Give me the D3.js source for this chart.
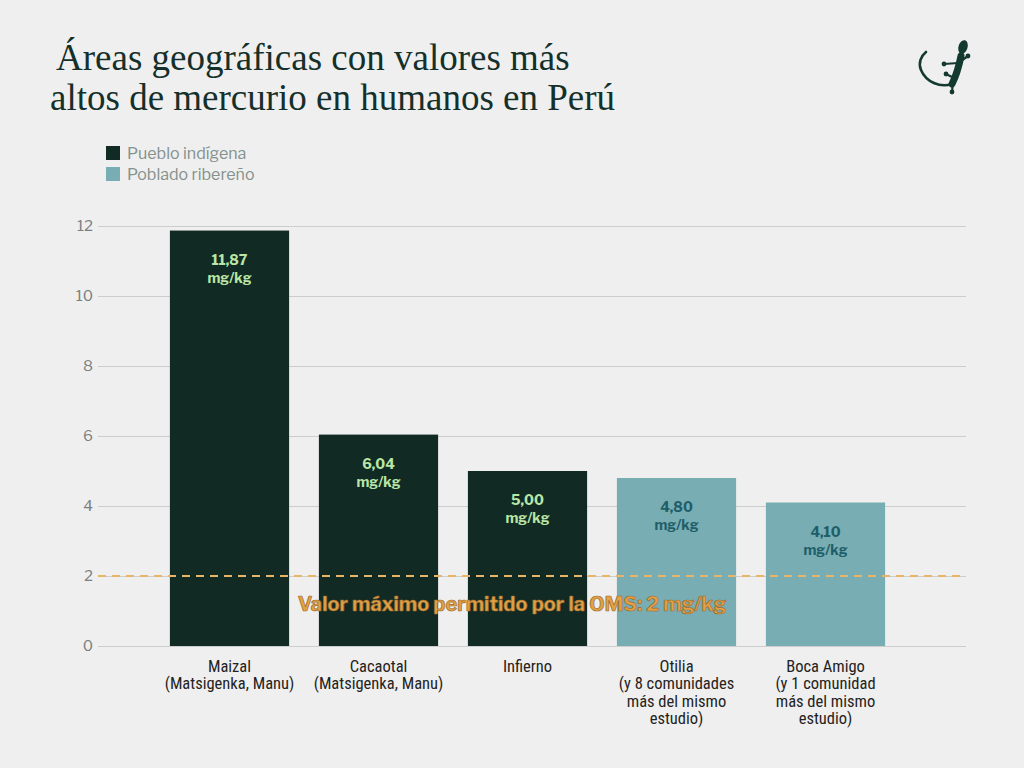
<!DOCTYPE html>
<html>
<head>
<meta charset="utf-8">
<script src="https://cdn.jsdelivr.net/npm/d3@7"></script>
<style>
  body { margin: 0; background: #efefef; }
  svg { display: block; }
</style>
</head>
<body>
<svg id="chart" width="1024" height="768"></svg>
<script>
var categories = ["Maizal", "Cacaotal", "Infierno", "Otilia", "Boca Amigo"];
var labelLines = [
    ["Maizal", "(Matsigenka, Manu)"],
    ["Cacaotal", "(Matsigenka, Manu)"],
    ["Infierno"],
    ["Otilia", "(y 8 comunidades", "más del mismo", "estudio)"],
    ["Boca Amigo", "(y 1 comunidad", "más del mismo", "estudio)"]
];
var values = [11.87, 6.04, 5.00, 4.80, 4.10];
var groups = ["Pueblo indígena", "Pueblo indígena", "Pueblo indígena", "Poblado ribereño", "Poblado ribereño"];
var legendItems = ["Pueblo indígena", "Poblado ribereño"];
var yTicks = [0, 2, 4, 6, 8, 10, 12];
var limitValue = 2;
var limitLabel = "Valor máximo permitido por la OMS: 2 mg/kg";

var colors = {"Pueblo indígena": "#122a24", "Poblado ribereño": "#77adb3"};
var labelColors = {"Pueblo indígena": "#b9e6a6", "Poblado ribereño": "#1f5e68"};

var svg = d3.select("#chart");
var sans = "'Libre Franklin', 'Public Sans', Roboto, 'Liberation Sans', sans-serif";
var narrow = "'Liberation Sans Narrow', 'Roboto Condensed', Roboto, sans-serif";

// title
var title = svg.append("g").attr("fill", "#15302a")
    .attr("font-family", "'Liberation Serif', 'DejaVu Serif', serif")
    .attr("font-size", 37);
title.append("text").attr("x", 56).attr("y", 70).text("Áreas geográficas con valores más");
title.append("text").attr("x", 50).attr("y", 110).text("altos de mercurio en humanos en Perú");

// legend
var legend = svg.append("g").selectAll("g")
    .data(legendItems).enter()
    .append("g")
    .attr("transform", function (d, i) { return "translate(106," + (146 + i * 21) + ")"; });
legend.append("rect").attr("width", 14).attr("height", 14)
    .attr("fill", function (d) { return colors[d]; });
legend.append("text").attr("x", 21).attr("y", 12.5)
    .attr("font-family", sans).attr("font-size", 16).attr("fill", "#84918d")
    .text(function (d) { return d; });

// scales
var x = d3.scaleBand().domain(categories).range([155, 900])
    .paddingInner(0.2).paddingOuter(0.1);
var y = d3.scaleLinear().domain([0, 12]).range([646, 226]);

// grid + axis
var yAxis = d3.axisLeft(y).tickValues(yTicks).tickSize(-868).tickPadding(6);
var axisG = svg.append("g").attr("transform", "translate(98,0)").call(yAxis);
axisG.select(".domain").remove();
axisG.selectAll(".tick line").attr("stroke", "#cdcdcd").attr("stroke-width", 1.2);
axisG.selectAll(".tick text").attr("fill", "#7b7f7e")
    .attr("font-family", sans).attr("font-size", 15).attr("x", -5);

// bars
svg.append("g").selectAll("rect")
    .data(values).enter()
    .append("rect")
    .attr("x", function (d, i) { return x(categories[i]); })
    .attr("y", function (d) { return y(d); })
    .attr("width", x.bandwidth())
    .attr("height", function (d) { return y(0) - y(d); })
    .attr("fill", function (d, i) { return colors[groups[i]]; });

// value labels
var vl = svg.append("g").selectAll("text")
    .data(values).enter()
    .append("text")
    .attr("text-anchor", "middle")
    .attr("font-family", sans).attr("font-size", 14).attr("font-weight", "bold")
    .attr("fill", function (d, i) { return labelColors[groups[i]]; })
    .attr("transform", function (d, i) {
        return "translate(" + (x(categories[i]) + x.bandwidth() / 2) + "," + (y(d) + 34) + ")";
    });
vl.append("tspan").attr("x", 0).attr("y", 0)
    .text(function (d) { return d.toFixed(2).replace(".", ","); });
vl.append("tspan").attr("x", 0).attr("y", 18).text("mg/kg");

// WHO limit
svg.append("line")
    .attr("x1", 98).attr("x2", 966)
    .attr("y1", y(limitValue)).attr("y2", y(limitValue))
    .attr("stroke", "#e8b468").attr("stroke-width", 2)
    .attr("stroke-dasharray", "8,6");
svg.append("text")
    .attr("x", 512).attr("y", y(limitValue) + 35)
    .attr("text-anchor", "middle")
    .attr("font-family", sans).attr("font-size", 20).attr("font-weight", "bold")
    .attr("fill", "#e3a144").attr("stroke", "#9a6a2e").attr("stroke-width", 0.7)
    .text(limitLabel);

// category labels
var cl = svg.append("g").selectAll("text")
    .data(categories).enter()
    .append("text")
    .attr("text-anchor", "middle")
    .attr("font-family", narrow).attr("font-size", 16.5).attr("fill", "#1f2322")
    .attr("transform", function (d) {
        return "translate(" + (x(d) + x.bandwidth() / 2) + ",672)";
    });
cl.selectAll("tspan")
    .data(function (d, i) { return labelLines[i]; }).enter()
    .append("tspan")
    .attr("x", 0)
    .attr("y", function (d, j) { return j * 17.3; })
    .text(function (d) { return d; });

// gecko logo
var ink = "#143a30";
var logo = svg.append("g").attr("fill", ink).attr("stroke", ink).attr("stroke-linecap", "round");
// tail
logo.append("path").attr("fill", "none").attr("stroke-width", 2.6)
    .attr("d", "M952,84 C940,88 926,82 921,70 C918,63 921,56 926,52");
// body
logo.append("path").attr("fill", "none").attr("stroke-width", 7)
    .attr("d", "M961,56 C959,66 956,76 952,84");
// head
logo.append("ellipse").attr("stroke", "none")
    .attr("cx", 963).attr("cy", 47).attr("rx", 4.5).attr("ry", 7)
    .attr("transform", "rotate(18,963,47)");
// legs
var legs = [[958, 63, 944, 64], [961, 61, 968, 56], [953, 82, 952, 92], [954, 78, 946, 74]];
legs.forEach(function (l) {
    logo.append("line").attr("x1", l[0]).attr("y1", l[1]).attr("x2", l[2]).attr("y2", l[3])
        .attr("stroke-width", 2.2);
    logo.append("circle").attr("stroke", "none").attr("cx", l[2]).attr("cy", l[3]).attr("r", 2.4);
});
</script>
</body>
</html>
